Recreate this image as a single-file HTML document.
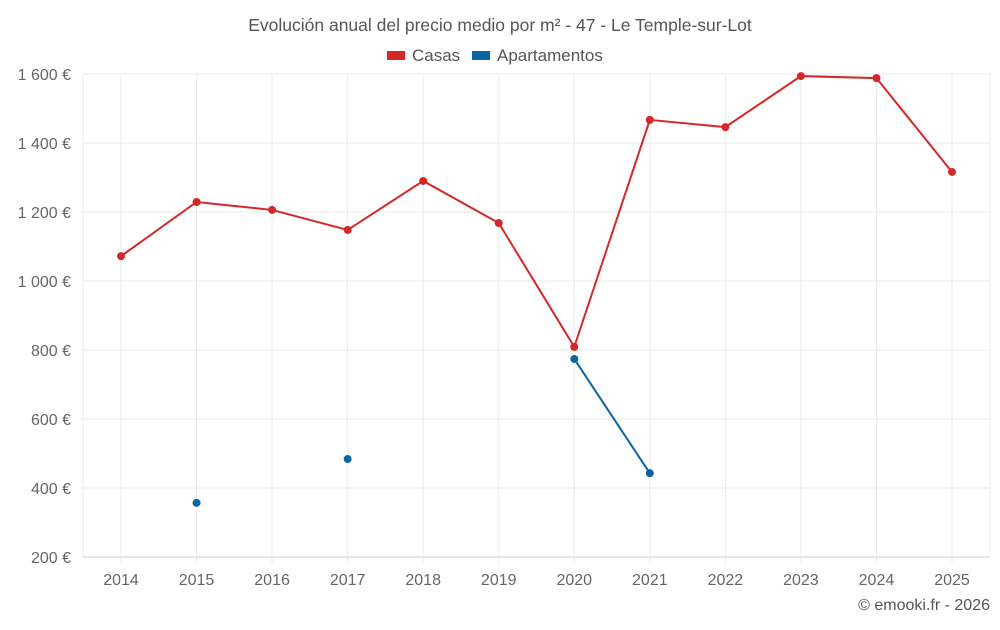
<!DOCTYPE html>
<html><head><meta charset="utf-8"><style>
body{margin:0;background:#fff;font-family:"Liberation Sans",sans-serif;}
svg text{font-family:"Liberation Sans",sans-serif;}
</style></head><body>
<svg id="chart" width="1000" height="625">
<text x="500" y="31" text-anchor="middle" font-size="17.5" fill="#555">Evolución anual del precio medio por m² - 47 - Le Temple-sur-Lot</text>
<g>
<g><rect x="387" y="51" width="18" height="9" fill="#d62728"/><text x="412" y="61" font-size="17" fill="#555">Casas</text></g>
<g><rect x="472" y="51" width="18" height="9" fill="#0b65a0"/><text x="497" y="61" font-size="17" fill="#555">Apartamentos</text></g>
</g>
<g id="grid"></g><g id="axes"></g><g id="series"></g>
<text x="990" y="610" text-anchor="end" font-size="16" fill="#555">© emooki.fr - 2026</text>
</svg>
<script>
const years=[2014,2015,2016,2017,2018,2019,2020,2021,2022,2023,2024,2025];
const casas=[1072,1229,1206,1148,1290,1168,809,1467,1446,1594,1588,1316];
const apartamentos=[null,357,null,484,null,null,774,443,null,null,null,null];
const yTicks=[200,400,600,800,1000,1200,1400,1600];
const yTickLabels=["200 €","400 €","600 €","800 €","1 000 €","1 200 €","1 400 €","1 600 €"];
const NS="http://www.w3.org/2000/svg";
const L=83,R=990,T=74,B=557;
const x=i=>121+i*(952-121)/(years.length-1);
const y=v=>B-(v-200)/(1600-200)*(B-T);
function mk(tag,attrs,parent){const e=document.createElementNS(NS,tag);for(const k in attrs)e.setAttribute(k,attrs[k]);parent.appendChild(e);return e;}
const grid=document.getElementById('grid'),axes=document.getElementById('axes'),ser=document.getElementById('series');
yTicks.forEach((v,i)=>{
 const l=mk('line',{x1:L,x2:R,y1:y(v),y2:y(v),stroke:i==0?'#ccc':'#ebebeb'},grid);
 
 
 const t=mk('text',{x:71,y:y(v)+6,'text-anchor':'end','font-size':16,fill:'#666'},axes);
 t.textContent=yTickLabels[i];
 
 
});
[L,R].forEach(xx=>{const l=mk('line',{x1:xx,x2:xx,y1:T,y2:B,stroke:'#ebebeb'},grid);
 
 });
years.forEach((yr,i)=>{
 const l=mk('line',{x1:x(i),x2:x(i),y1:T,y2:B+6,stroke:'#ebebeb'},grid);
 
 
 const t=mk('text',{x:x(i),y:585,'text-anchor':'middle','font-size':16,fill:'#666'},axes);
 t.textContent=yr;
 
 
});
function draw(vals,color,name){
 let d='',pen=false;
 vals.forEach((v,i)=>{if(v==null){pen=false;return;}d+=(pen?'L':'M')+x(i)+' '+y(v)+' ';pen=true;});
 const p=mk('path',{d:d,fill:'none',stroke:color,'stroke-width':2},ser);
 
 
 vals.forEach((v,i)=>{if(v==null)return;
  const c=mk('circle',{cx:x(i),cy:y(v),r:4,fill:color},ser);
  
  });
}
draw(casas,'#d62728','casas');
draw(apartamentos,'#0b65a0','apartamentos');
</script>
</body></html>
